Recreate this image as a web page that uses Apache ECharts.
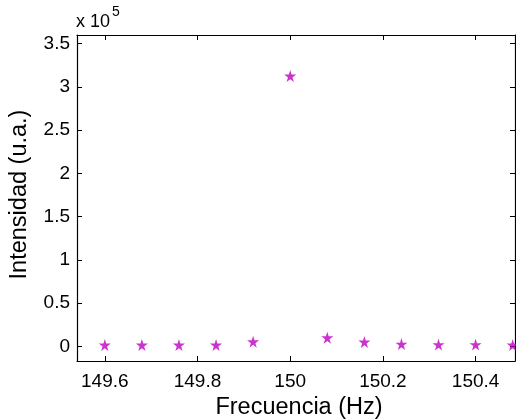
<!DOCTYPE html>
<html>
<head>
<meta charset="utf-8">
<script src="https://cdn.jsdelivr.net/npm/echarts@6/dist/echarts.min.js"></script>
<style>
html,body{margin:0;padding:0;background:#fff;}
#chart{width:516px;height:420px;}
</style>
</head>
<body>
<div id="chart"></div>
<script>
// Data
const frequencies = [149.60, 149.68, 149.76, 149.84, 149.92, 150.00, 150.08, 150.16, 150.24, 150.32, 150.40, 150.48];
const intensities = [1500, 1500, 1500, 1500, 5400, 312700, 10000, 5000, 2600, 2000, 2000, 1500];
const yScale = 1e5; // axis multiplier "x 10^5"
const xLabel = 'Frecuencia (Hz)';
const yLabel = 'Intensidad (u.a.)';

const points = frequencies.map((f, i) => [f, intensities[i] / yScale]);

const starPath = 'path://M50,0 L61,35 L98,35 L68,57 L79,91 L50,70 L21,91 L32,57 L2,35 L39,35 Z';
const fontFamily = 'Liberation Sans, Arial, sans-serif';

const chart = echarts.init(document.getElementById('chart'), null, {renderer: 'canvas'});
const axisLine = {show: true, onZero: false, lineStyle: {color: '#000', width: 1.2}};
const axisTick = {show: true, inside: true, length: 5, lineStyle: {color: '#000', width: 1}};

const xCommon = {
  type: 'value', min: 149.54, max: 150.485, splitNumber: 5, minInterval: 0.2, maxInterval: 0.2,
  axisLine: axisLine, axisTick: axisTick, splitLine: {show: false}
};
const yCommon = {
  type: 'value', min: -0.17, max: 3.6, splitNumber: 7, minInterval: 0.5, maxInterval: 0.5,
  axisLine: axisLine, axisTick: axisTick, splitLine: {show: false}
};

chart.setOption({
  animation: false,
  backgroundColor: '#fff',
  grid: {left: 77, right: 1, top: 35, bottom: 59, containLabel: false, outerBoundsMode: 'none'},
  xAxis: [
    Object.assign({}, xCommon, {
      position: 'bottom',
      name: xLabel, nameLocation: 'middle', nameGap: 30,
      nameTextStyle: {color: '#000', fontSize: 23.5, fontFamily: fontFamily, padding: [0, 0, 0, 6]},
      axisLabel: {color: '#000', fontSize: 19, fontFamily: fontFamily, margin: 11,
        showMinLabel: false, showMaxLabel: false,
        formatter: v => (Math.abs(Math.round(v / 0.2) * 0.2 - v) < 1e-6 ? String(+v.toFixed(1)) : '')}
    }),
    Object.assign({}, xCommon, {position: 'top', axisLabel: {show: false}})
  ],
  yAxis: [
    Object.assign({}, yCommon, {
      position: 'left',
      name: yLabel, nameLocation: 'middle', nameGap: 45, nameRotate: 90,
      nameTextStyle: {color: '#000', fontSize: 23.5, fontFamily: fontFamily, padding: [0, 0, 0, 7]},
      axisLabel: {color: '#000', fontSize: 19, fontFamily: fontFamily, margin: 7,
        showMinLabel: false, showMaxLabel: false,
        formatter: v => (Math.abs(Math.round(v / 0.5) * 0.5 - v) < 1e-6 ? String(+v.toFixed(1)) : '')}
    }),
    Object.assign({}, yCommon, {position: 'right', axisLabel: {show: false}})
  ],
  graphic: [
    {type: 'text', left: 76, top: 13, style: {text: 'x 10', font: '18px ' + fontFamily, fill: '#000'}},
    {type: 'text', left: 112, top: 5, style: {text: '5', font: '14px ' + fontFamily, fill: '#000'}}
  ],
  series: [{
    type: 'scatter',
    xAxisIndex: 0, yAxisIndex: 0,
    data: points,
    symbol: starPath,
    symbolSize: 12,
    itemStyle: {color: '#bf00bf'},
    clip: false
  }]
});
</script>
</body>
</html>
